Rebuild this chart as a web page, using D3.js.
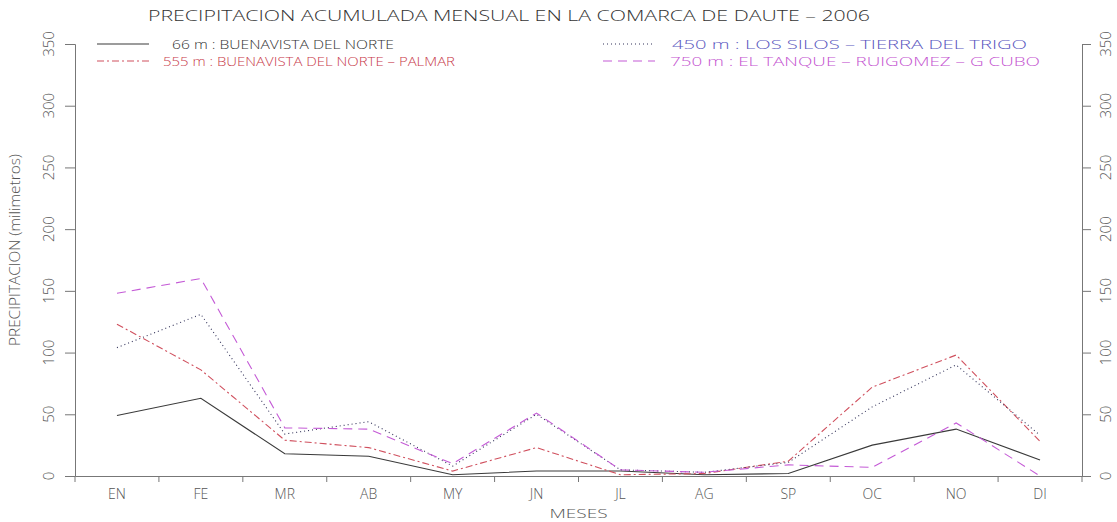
<!doctype html>
<html lang="es">
<head>
<meta charset="UTF-8">
<title>Precipitacion acumulada mensual - Daute 2006</title>
<style>
  body { margin: 0; background: #fff; }
  svg { display: block; }
  text { font-family: "Open Sans", "DejaVu Sans", sans-serif; font-weight: 300; }
</style>
</head>
<body>
<svg></svg>
<script src="https://d3js.org/d3.v7.min.js"></script>
<script>
const months = ["EN", "FE", "MR", "AB", "MY", "JN", "JL", "AG", "SP", "OC", "NO", "DI"];
const yTicks = [0, 50, 100, 150, 200, 250, 300, 350];

// precipitacion mensual (mm) por estacion
const est66 = [49, 63, 18, 16, 1, 4, 4, 1, 2, 25, 38, 13];
const est450 = [104, 131, 34, 44, 8, 50, 5, 3, 11, 56, 90, 33];
const est555 = [123, 86, 29, 23, 4, 23, 1, 2, 12, 72, 98, 28];
const est750 = [148, 160, 39, 38, 10, 51, 5, 3, 9, 7, 43, 0];

const seriesNames = [
  "66 m : BUENAVISTA DEL NORTE",
  "555 m : BUENAVISTA DEL NORTE \u2013 PALMAR",
  "450 m : LOS SILOS \u2013 TIERRA DEL TRIGO",
  "750 m : EL TANQUE \u2013 RUIGOMEZ \u2013 G  CUBO"
];

const width = 1117, height = 522;
const mLeft = 75, mRight = 1082, mTop = 44, mBottom = 476;

const svg = d3.select("svg").attr("width", width).attr("height", height);

const x = d3.scaleBand().domain(months).range([mLeft, mRight]);
const y = d3.scaleLinear().domain([0, 350]).range([mBottom, mTop]);

const series = [
  { name: seriesNames[0], values: est66,  stroke: "#3a3a3a", dash: null,      text: "#333333", lx: 97,  ly: 44, tx: 172, tw: 222 },
  { name: seriesNames[1], values: est555, stroke: "#d0505e", dash: "7,3,2,3", text: "#c83a4a", lx: 97,  ly: 61, tx: 163, tw: 292 },
  { name: seriesNames[2], values: est450, stroke: "#33335a", dash: "1,3",     text: "#5a58c0", lx: 603, ly: 44, tx: 672, tw: 355 },
  { name: seriesNames[3], values: est750, stroke: "#c45ad6", dash: "9,6",     text: "#c454d0", lx: 603, ly: 61, tx: 670, tw: 370 }
];

// ejes
const axisColor = "#777";
const yLeft = svg.append("g").attr("transform", `translate(${mLeft},0)`)
  .call(d3.axisLeft(y).tickValues(yTicks).tickSize(10).tickFormat(""));
const yRight = svg.append("g").attr("transform", `translate(${mRight},0)`)
  .call(d3.axisRight(y).tickValues(yTicks).tickSize(9).tickFormat(""));
[yLeft, yRight].forEach(g => {
  g.select(".domain").attr("stroke", axisColor);
  g.selectAll(".tick line").attr("stroke", axisColor);
  g.selectAll(".tick text").remove();
});

// etiquetas verticales del eje y
function yLabels(g, dx) {
  g.selectAll(".ylab").data(yTicks).enter().append("text")
    .attr("class", "ylab")
    .attr("transform", d => `translate(${dx},${y(d)}) rotate(-90)`)
    .attr("text-anchor", "middle")
    .attr("dy", "0.35em")
    .attr("font-size", 15)
    .attr("fill", "#555")
    .attr("font-family", "DejaVu Sans Condensed, sans-serif")
    .attr("font-weight", 400)
    .text(d => d);
}
yLabels(yLeft, -26);
yLabels(yRight, 24);

const xAxis = svg.append("g").attr("transform", `translate(0,${mBottom})`)
  .call(d3.axisBottom(x).tickSize(0).tickPadding(10));
xAxis.select(".domain").attr("stroke", axisColor);
xAxis.selectAll(".tick text").attr("fill", "#555").attr("font-size", 14)
  .attr("font-family", null).attr("dy", "0.9em");

// marcas entre meses
xAxis.selectAll(".sep").data(months.concat(["_end"])).enter().append("line")
  .attr("class", "sep")
  .attr("x1", d => d === "_end" ? mRight : x(d))
  .attr("x2", d => d === "_end" ? mRight : x(d))
  .attr("y1", 0).attr("y2", 6)
  .attr("stroke", axisColor);

// titulos
svg.append("text").attr("x", 148).attr("y", 21)
  .attr("textLength", 722).attr("lengthAdjust", "spacingAndGlyphs")
  .attr("font-size", 14).attr("fill", "#333")
  .text("PRECIPITACION ACUMULADA MENSUAL EN LA COMARCA DE DAUTE \u2013 2006");

svg.append("text").attr("x", (mLeft + mRight) / 2).attr("y", 518)
  .attr("text-anchor", "middle").attr("font-size", 13).attr("fill", "#555")
  .attr("textLength", 58).attr("lengthAdjust", "spacingAndGlyphs")
  .text("MESES");

svg.append("text")
  .attr("transform", "translate(20,250) rotate(-90)")
  .attr("text-anchor", "middle").attr("font-size", 15).attr("fill", "#555")
  .attr("font-family", "DejaVu Sans Condensed, sans-serif")
  .attr("font-weight", 400)
  .attr("textLength", 192).attr("lengthAdjust", "spacingAndGlyphs")
  .text("PRECIPITACION (milimetros)");

// lineas
const line = d3.line().x((d, i) => x(months[i]) + x.bandwidth() / 2).y(d => y(d));
svg.append("g").selectAll("path").data(series).enter().append("path")
  .attr("d", d => line(d.values))
  .attr("fill", "none")
  .attr("stroke", d => d.stroke)
  .attr("stroke-width", 1.1)
  .attr("stroke-dasharray", d => d.dash);

// leyenda
const legend = svg.append("g").selectAll("g").data(series).enter().append("g");
legend.append("line")
  .attr("x1", d => d.lx).attr("x2", d => d.lx + 52)
  .attr("y1", d => d.ly).attr("y2", d => d.ly)
  .attr("stroke", d => d.stroke).attr("stroke-width", 1.1)
  .attr("stroke-dasharray", d => d.dash);
legend.append("text")
  .attr("x", d => d.tx)
  .attr("y", d => d.ly + 5)
  .attr("font-size", 12).attr("fill", d => d.text)
  .attr("textLength", d => d.tw).attr("lengthAdjust", "spacingAndGlyphs")
  .text(d => d.name);
</script>
</body>
</html>
